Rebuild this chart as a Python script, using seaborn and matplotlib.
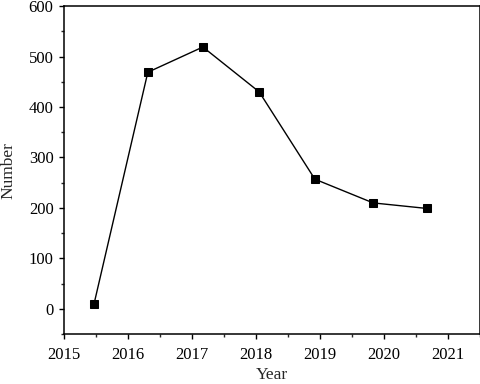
import pandas as pd
import matplotlib
matplotlib.use('Agg')
import matplotlib.pyplot as plt
import seaborn as sns
from matplotlib.ticker import MultipleLocator

# Values
years = [2015.47, 2016.31, 2017.17, 2018.05, 2018.92, 2019.83, 2020.67]
numbers = [10, 469, 519, 430, 257, 210, 199]

df = pd.DataFrame({'Year': years, 'Number': numbers})

sns.set_theme(style='ticks')
plt.rcParams['font.family'] = ['Liberation Serif', 'DejaVu Serif']

fig = plt.figure(figsize=(4.81, 3.84), dpi=100)
ax = fig.add_axes([0.133, 0.130, 0.865, 0.854])

sns.lineplot(data=df, x='Year', y='Number', ax=ax, color='black', linewidth=1.0,
             marker='s', markersize=5.5, markeredgecolor='black', markerfacecolor='black')

ax.set_xlim(2015, 2021.5)
ax.set_ylim(-50, 600)
ax.xaxis.set_major_locator(MultipleLocator(1))
ax.xaxis.set_minor_locator(MultipleLocator(0.5))
ax.yaxis.set_major_locator(MultipleLocator(100))
ax.yaxis.set_minor_locator(MultipleLocator(50))
ax.tick_params(which='major', direction='out', length=3.5, width=1, labelsize=12, colors='black', pad=4)
ax.tick_params(axis='x', which='major', pad=6)
ax.tick_params(which='minor', direction='out', length=2, width=1)
ax.set_xlabel('Year', fontsize=12.5, labelpad=3)
ax.set_ylabel('Number', fontsize=12.5, labelpad=9)
for s in ax.spines.values():
    s.set_linewidth(1.1)
    s.set_color('black')
    s.set_visible(True)

fig.savefig('out.png', dpi=100)
